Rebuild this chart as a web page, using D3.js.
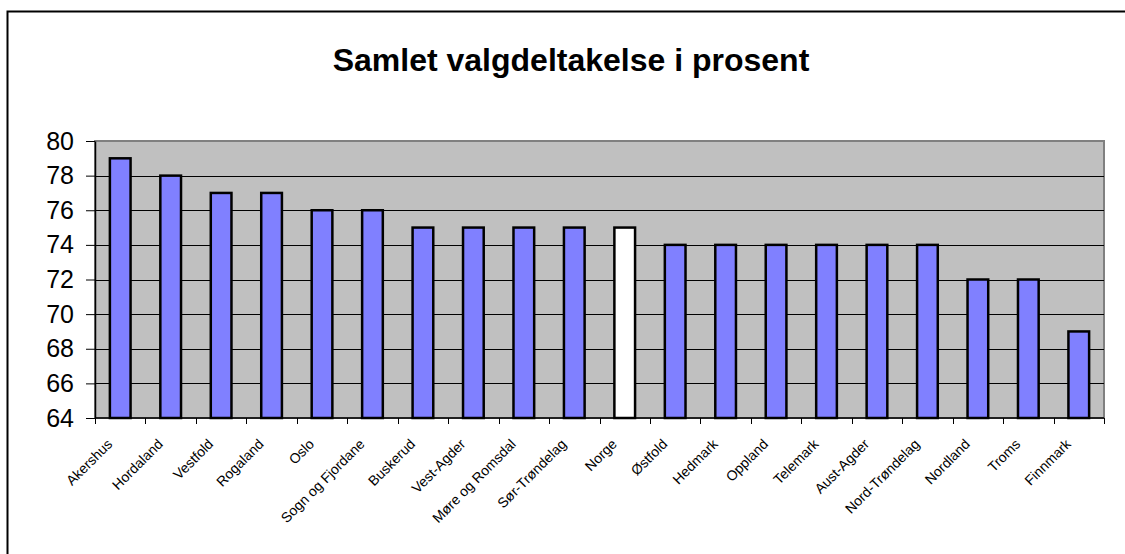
<!DOCTYPE html>
<html>
<head>
<meta charset="utf-8">
<script src="https://cdn.jsdelivr.net/npm/d3@7"></script>
<style>
  html, body { margin: 0; padding: 0; background: #fff; }
  svg { display: block; font-family: "Liberation Sans", Arial, sans-serif; }
</style>
</head>
<body>
<svg id="chart" width="1125" height="554"></svg>
<script>
// Fylker og landet samlet, sortert etter valgdeltakelse
const fylker = ["Akershus", "Hordaland", "Vestfold", "Rogaland", "Oslo", "Sogn og Fjordane",
  "Buskerud", "Vest-Agder", "Møre og Romsdal", "Sør-Trøndelag", "Norge", "Østfold",
  "Hedmark", "Oppland", "Telemark", "Aust-Agder", "Nord-Trøndelag", "Nordland", "Troms", "Finnmark"];
const deltakelse = [79, 78, 77, 77, 76, 76, 75, 75, 75, 75, 75, 74, 74, 74, 74, 74, 74, 72, 72, 69];
const yTicks = [64, 66, 68, 70, 72, 74, 76, 78, 80];
const tittel = "Samlet valgdeltakelse i prosent";
const nasjonalt = "Norge";

const svg = d3.select("#chart");
const plot = { left: 95, right: 1104, top: 141, bottom: 418 };

// Ytre ramme
svg.append("rect")
  .attr("x", 7.5).attr("y", 11.5)
  .attr("width", 1200).attr("height", 600)
  .attr("fill", "#fff").attr("stroke", "#000").attr("stroke-width", 2);

svg.append("text")
  .attr("x", 571).attr("y", 71)
  .attr("text-anchor", "middle")
  .attr("font-size", 32).attr("font-weight", "bold")
  .text(tittel);

const x = d3.scaleBand()
  .domain(fylker)
  .range([plot.left, plot.right])
  .paddingInner(0.59)
  .paddingOuter(0.295);

const y = d3.scaleLinear()
  .domain([64, 80])
  .range([plot.bottom, plot.top]);

// Plottområde
svg.append("rect")
  .attr("x", plot.left).attr("y", plot.top)
  .attr("width", plot.right - plot.left).attr("height", plot.bottom - plot.top)
  .attr("fill", "#c0c0c0").attr("stroke", "#808080").attr("stroke-width", 2);

// Rutenett
svg.append("g")
  .selectAll("line")
  .data(yTicks.filter(t => t > 64 && t < 80))
  .join("line")
  .attr("x1", plot.left).attr("x2", plot.right)
  .attr("y1", d => Math.round(y(d)) + 0.5).attr("y2", d => Math.round(y(d)) + 0.5)
  .attr("stroke", "#000").attr("stroke-width", 1);

// Søyler
svg.append("g")
  .selectAll("rect")
  .data(fylker.map((f, i) => ({ f, v: deltakelse[i] })))
  .join("rect")
  .attr("x", d => x(d.f))
  .attr("y", d => y(d.v))
  .attr("width", x.bandwidth())
  .attr("height", d => y(64) - y(d.v))
  .attr("fill", d => d.f === nasjonalt ? "#ffffff" : "#8080ff")
  .attr("stroke", "#000").attr("stroke-width", 2.5);

// Y-akse
const yAxis = svg.append("g")
  .attr("transform", `translate(${plot.left},0)`)
  .call(d3.axisLeft(y).tickValues(yTicks).tickSize(9).tickPadding(12).tickSizeOuter(0));
yAxis.select(".domain").attr("stroke", "#000").attr("stroke-width", 1.5);
yAxis.selectAll(".tick line").attr("stroke", "#000");
yAxis.selectAll(".tick text")
  .attr("font-size", 25).attr("fill", "#000")
  .attr("font-family", "'Liberation Sans', Arial, sans-serif");

// X-akse med streker mellom kategoriene
const xAxis = svg.append("g");
xAxis.append("line")
  .attr("x1", plot.left).attr("x2", plot.right)
  .attr("y1", plot.bottom).attr("y2", plot.bottom)
  .attr("stroke", "#000").attr("stroke-width", 1.5);
const grenser = fylker.map(f => x(f) - x.step() * x.paddingInner() / 2).concat([plot.right]);
xAxis.selectAll("line.tk")
  .data(grenser)
  .join("line").attr("class", "tk")
  .attr("x1", d => Math.round(d) + 0.5).attr("x2", d => Math.round(d) + 0.5)
  .attr("y1", plot.bottom).attr("y2", plot.bottom + 6)
  .attr("stroke", "#000");

xAxis.selectAll("text")
  .data(fylker)
  .join("text")
  .attr("transform", d => `translate(${x(d) + x.bandwidth() / 2 - 7},445) rotate(-45)`)
  .attr("text-anchor", "end")
  .attr("font-size", 14)
  .text(d => d);
</script>
</body>
</html>
